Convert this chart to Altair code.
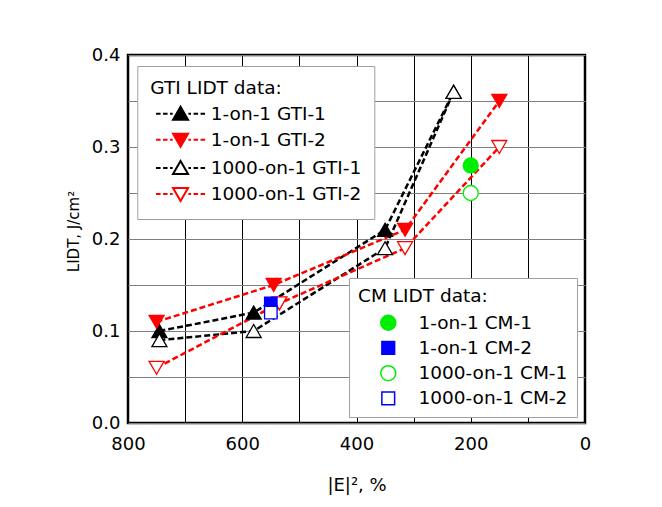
import altair as alt
import pandas as pd

# ---------------- data ----------------
gti_names = ["1-on-1 GTI-1", "1-on-1 GTI-2", "1000-on-1 GTI-1", "1000-on-1 GTI-2"]
gti_x = [
    [745, 580, 350, 230],
    [750, 545, 315, 150],
    [745, 580, 350, 230],
    [750, 535, 315, 150],
]
gti_y = [
    [0.10, 0.12, 0.21, 0.36],
    [0.11, 0.15, 0.21, 0.35],
    [0.09, 0.10, 0.19, 0.36],
    [0.06, 0.13, 0.19, 0.30],
]

cm_names = ["1-on-1 CM-1", "1-on-1 CM-2", "1000-on-1 CM-1", "1000-on-1 CM-2"]
cm_x = [200, 550, 200, 550]
cm_y = [0.28, 0.13, 0.25, 0.12]

x_ticks = [0, 100, 200, 300, 400, 500, 600, 700, 800]
y_ticks = [0, 0.05, 0.1, 0.15, 0.2, 0.25, 0.3, 0.35, 0.4]

# ---------------- styles ----------------
RED = "#ff0000"
BLACK = "#000000"
GREEN = "#00ee00"
BLUE = "#0000ff"
WHITE = "#ffffff"
gti_stroke = [BLACK, RED, BLACK, RED]
gti_fill = [BLACK, RED, WHITE, WHITE]
gti_shape = ["triangle-up", "triangle-down", "triangle-up", "triangle-down"]
cm_stroke = [GREEN, BLUE, GREEN, BLUE]
cm_fill = [GREEN, BLUE, WHITE, WHITE]
cm_shape = ["circle", "square", "circle", "square"]
marker_size = {"circle": 225, "square": 156}

# legend glyphs: marker with dashed line segments on both sides (unit = 7.5 px)
dashes = ("M -3.267 0 L -2.667 0 M -2.333 0 L -1.733 0 M -1.4 0 L -1.05 0 "
          "M 1.05 0 L 1.4 0 M 1.733 0 L 2.333 0 M 2.667 0 L 3.267 0")
tri_up = "M -1 0.8 L 1 0.8 L 0 -0.93 Z " + dashes
tri_down = "M -1 -0.8 L 1 -0.8 L 0 0.93 Z " + dashes
gti_legend_shapes = [tri_up, tri_down, tri_up, tri_down]
sq_path = "M -0.85 -0.85 L 0.85 -0.85 L 0.85 0.85 L -0.85 0.85 Z"
cm_legend_shapes = ["circle", sq_path, "circle", sq_path]

FONT = "DejaVu Sans"

# ---------------- tables ----------------
gti_rows = []
for i, name in enumerate(gti_names):
    for j, (xv, yv) in enumerate(zip(gti_x[i], gti_y[i])):
        gti_rows.append(dict(series=name, idx=j, x=xv, y=yv,
                             stroke=gti_stroke[i], fill=gti_fill[i],
                             shape=gti_shape[i]))
gti_df = pd.DataFrame(gti_rows)

cm_df = pd.DataFrame(dict(series=cm_names, x=cm_x, y=cm_y, stroke=cm_stroke,
                          fill=cm_fill, shape=cm_shape,
                          size=[marker_size[s] for s in cm_shape]))

X = alt.X("x:Q",
          scale=alt.Scale(domain=[0, 800], reverse=True, nice=False, zero=False),
          axis=alt.Axis(values=x_ticks,
                        labelExpr="datum.value % 200 == 0 ? datum.label : ''",
                        title="|E|², %", grid=True, gridColor="black", gridWidth=1,
                        ticks=False, domain=False, labelFont=FONT, labelFontSize=18,
                        labelColor="black", labelPadding=12, labelFlush=False,
                        titleFont=FONT,
                        titleFontSize=18, titleFontWeight="normal", titleColor="black",
                        titleBaseline="alphabetic", titleY=67, titleAnchor="middle"))
Y = alt.Y("y:Q",
          scale=alt.Scale(domain=[0, 0.4], nice=False),
          axis=alt.Axis(values=y_ticks,
                        labelExpr="round(datum.value*100) % 10 == 0 ? format(datum.value, '.1f') : ''",
                        title="LIDT, J/cm²", grid=True, gridColor="#808080", gridWidth=1,
                        ticks=False, domain=False, labelFont=FONT, labelFontSize=18,
                        labelColor="black", labelPadding=8, labelFlush=False,
                        titleFont=FONT,
                        titleFontSize=15, titleFontWeight="normal", titleColor="black",
                        titleBaseline="alphabetic", titleAlign="center",
                        titleX=-50, titleY=176, titleAngle=270))

lines = alt.Chart(gti_df).mark_line(strokeDash=[6, 3], strokeWidth=2.5).encode(
    x=X, y=Y, detail="series:N",
    stroke=alt.Stroke("stroke:N", scale=None),
    order="idx:Q")

gti_points = alt.Chart(gti_df).mark_point(filled=True, size=225, strokeWidth=1.3, opacity=1).encode(
    x=X, y=Y,
    shape=alt.Shape("shape:N", scale=None),
    stroke=alt.Stroke("stroke:N", scale=None),
    fill=alt.Fill("fill:N", scale=None))

cm_points = alt.Chart(cm_df).mark_point(filled=True, strokeWidth=1.3, opacity=1).encode(
    x=X, y=Y,
    shape=alt.Shape("shape:N", scale=None),
    stroke=alt.Stroke("stroke:N", scale=None),
    fill=alt.Fill("fill:N", scale=None),
    size=alt.Size("size:Q", scale=None))

gti_legend = alt.Legend(
    title="\u00a0GTI LIDT data:", orient="none", legendX=9.3, legendY=11,
    padding=13, fillColor="white", strokeColor="#a0a0a0",
    titleFont=FONT, titleFontSize=18.5, titleFontWeight="normal", titleColor="black",
    titlePadding=7, labelFont=FONT, labelFontSize=18.5, labelColor="black",
    labelOffset=21, labelLimit=400, symbolSize=225, symbolStrokeWidth=2,
    symbolOffset=21, rowPadding=5.1, labelExpr="datum.label + '\u00a0\u00a0'")

cm_legend = alt.Legend(
    title="\u00a0CM LIDT data:", orient="none", legendX=221, legendY=223,
    padding=9, fillColor="white", strokeColor="#a0a0a0",
    titleFont=FONT, titleFontSize=18.5, titleFontWeight="normal", titleColor="black",
    titlePadding=8, labelFont=FONT, labelFontSize=18.5, labelColor="black",
    labelOffset=21, labelLimit=400, symbolSize=225, symbolStrokeWidth=1.5,
    symbolOffset=21, rowPadding=4.2, labelExpr="datum.label + '\u00a0'")

gti_leg_layer = alt.Chart(pd.DataFrame({"series": gti_names})).transform_filter("false").mark_point(
    filled=True, opacity=1, strokeWidth=2).encode(
    shape=alt.Shape("series:N", scale=alt.Scale(domain=gti_names, range=gti_legend_shapes), legend=gti_legend),
    stroke=alt.Stroke("series:N", scale=alt.Scale(domain=gti_names, range=gti_stroke), legend=gti_legend),
    fill=alt.Fill("series:N", scale=alt.Scale(domain=gti_names, range=gti_fill), legend=gti_legend))

cm_leg_layer = alt.Chart(pd.DataFrame({"series": cm_names})).transform_filter("false").mark_point(
    filled=True, opacity=1, strokeWidth=1.5).encode(
    shape=alt.Shape("series:N", scale=alt.Scale(domain=cm_names, range=cm_legend_shapes), legend=cm_legend),
    stroke=alt.Stroke("series:N", scale=alt.Scale(domain=cm_names, range=cm_stroke), legend=cm_legend),
    fill=alt.Fill("series:N", scale=alt.Scale(domain=cm_names, range=cm_fill), legend=cm_legend))

chart = alt.layer(lines, gti_points, cm_points, gti_leg_layer, cm_leg_layer).resolve_scale(
    shape="independent", stroke="independent", fill="independent", size="independent"
).properties(
    width=457, height=368,
    autosize=alt.AutoSizeParams(type="none"),
    padding={"left": 128, "top": 55, "right": 77, "bottom": 84},
    background="white",
).configure_view(stroke="black", strokeWidth=2.5)

chart.save("out.html", embed_options={"renderer": "svg", "actions": False})
